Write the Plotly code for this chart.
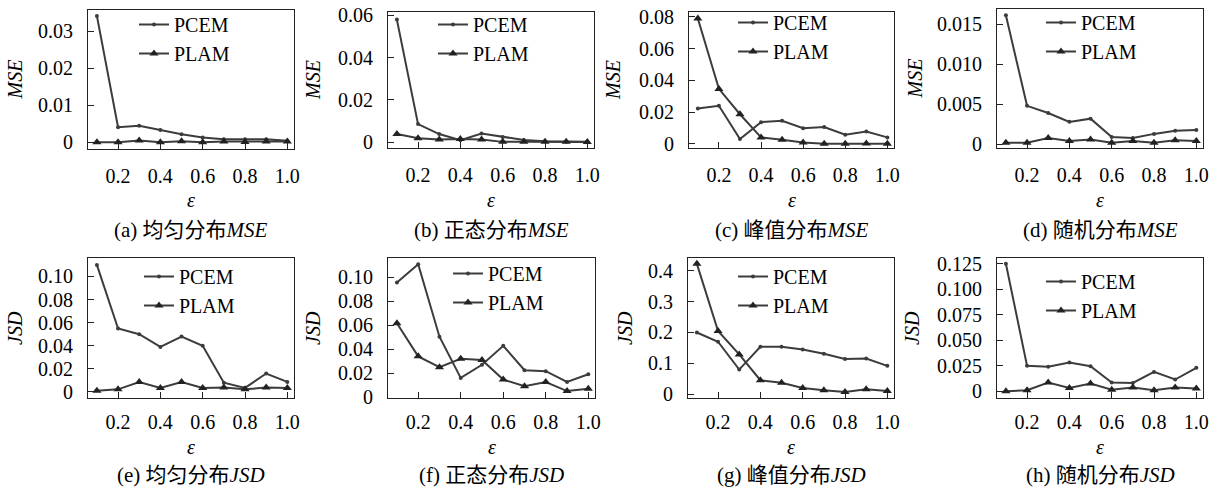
import plotly.graph_objects as go

W, H = 1224, 489

eps = [0.1, 0.2, 0.3, 0.4, 0.5, 0.6, 0.7, 0.8, 0.9, 1.0]
x_tickvals = [0.2, 0.4, 0.6, 0.8, 1.0]
x_ticktext = ["0.2", "0.4", "0.6", "0.8", "1.0"]

# (a) uniform MSE
a_pcem = [0.0341, 0.0041, 0.0045, 0.0033, 0.0022, 0.0013, 0.0008, 0.0008, 0.0008, 0.0004]
a_plam = [0.0000, 0.0000, 0.0005, 0.0000, 0.0003, 0.0000, 0.0002, 0.0001, 0.0002, 0.0002]
# (b) normal MSE
b_pcem = [0.0580, 0.0086, 0.0039, 0.0010, 0.0041, 0.0025, 0.0011, 0.0005, 0.0002, 0.0002]
b_plam = [0.0039, 0.0019, 0.0013, 0.0016, 0.0013, 0.0002, 0.0002, 0.0002, 0.0002, 0.0001]
# (c) peak MSE
c_pcem = [0.0222, 0.0239, 0.0029, 0.0136, 0.0145, 0.0098, 0.0105, 0.0057, 0.0077, 0.0040]
c_plam = [0.0790, 0.0346, 0.0186, 0.0040, 0.0025, 0.0008, 0.0000, 0.0000, 0.0002, 0.0000]
# (d) random MSE
d_pcem = [0.0161, 0.0048, 0.0039, 0.0028, 0.0032, 0.0009, 0.0008, 0.0013, 0.0017, 0.0018]
d_plam = [0.0002, 0.0002, 0.0008, 0.0004, 0.0006, 0.0002, 0.0004, 0.0002, 0.0005, 0.0004]
# (e) uniform JSD
e_pcem = [0.110, 0.055, 0.050, 0.039, 0.048, 0.040, 0.008, 0.0035, 0.016, 0.0087]
e_plam = [0.001, 0.0023, 0.0087, 0.0035, 0.0087, 0.0035, 0.0038, 0.0023, 0.0038, 0.0035]
# (f) normal JSD
f_pcem = [0.0958, 0.111, 0.0504, 0.016, 0.027, 0.0428, 0.0224, 0.0216, 0.0126, 0.019]
f_plam = [0.0616, 0.034, 0.025, 0.032, 0.031, 0.0146, 0.009, 0.0126, 0.005, 0.007]
# (g) peak JSD
g_pcem = [0.200, 0.170, 0.080, 0.154, 0.154, 0.145, 0.131, 0.114, 0.116, 0.092]
g_plam = [0.422, 0.205, 0.129, 0.0455, 0.037, 0.0206, 0.013, 0.0076, 0.016, 0.011]
# (h) random JSD
h_pcem = [0.125, 0.0249, 0.024, 0.0282, 0.0246, 0.0085, 0.0082, 0.019, 0.0115, 0.023]
h_plam = [0.000, 0.001, 0.0085, 0.0033, 0.0075, 0.0016, 0.0036, 0.001, 0.0036, 0.0026]

series_pcem = [a_pcem, b_pcem, c_pcem, d_pcem, e_pcem, f_pcem, g_pcem, h_pcem]
series_plam = [a_plam, b_plam, c_plam, d_plam, e_plam, f_plam, g_plam, h_plam]

y_tickvals = [
    [0, 0.01, 0.02, 0.03],
    [0, 0.02, 0.04, 0.06],
    [0, 0.02, 0.04, 0.06, 0.08],
    [0, 0.005, 0.010, 0.015],
    [0, 0.02, 0.04, 0.06, 0.08, 0.10],
    [0, 0.02, 0.04, 0.06, 0.08, 0.10],
    [0, 0.1, 0.2, 0.3, 0.4],
    [0, 0.025, 0.050, 0.075, 0.100, 0.125],
]
y_ticktext = [
    ["0", "0.01", "0.02", "0.03"],
    ["0", "0.02", "0.04", "0.06"],
    ["0", "0.02", "0.04", "0.06", "0.08"],
    ["0", "0.005", "0.010", "0.015"],
    ["0", "0.02", "0.04", "0.06", "0.08", "0.10"],
    ["0", "0.02", "0.04", "0.06", "0.08", "0.10"],
    ["0", "0.1", "0.2", "0.3", "0.4"],
    ["0", "0.025", "0.050", "0.075", "0.100", "0.125"],
]
y_ranges = [
    [-0.0018, 0.0357],
    [-0.0027, 0.0616],
    [-0.0027, 0.0831],
    [-0.00046, 0.01688],
    [-0.0052, 0.116],
    [-0.0008, 0.1162],
    [-0.012, 0.441],
    [-0.0066, 0.1306],
]
y_titles = ["MSE", "MSE", "MSE", "MSE", "JSD", "JSD", "JSD", "JSD"]
captions = ["(a) 均匀分布<i>MSE</i>", "(b) 正态分布<i>MSE</i>", "(c) 峰值分布<i>MSE</i>",
            "(d) 随机分布<i>MSE</i>", "(e) 均匀分布<i>JSD</i>", "(f) 正态分布<i>JSD</i>",
            "(g) 峰值分布<i>JSD</i>", "(h) 随机分布<i>JSD</i>"]

# layout geometry in pixels (left, right, top, bottom)
boxes = [
    (88, 294, 10, 149), (388, 594, 12, 148), (689, 894, 12, 148), (997, 1203, 9, 148),
    (88, 294, 258, 398), (388, 595, 258, 398), (688, 894, 258, 398), (997, 1203, 258, 398),
]
ytitle_x = [15, 313, 613, 914, 15, 313, 625, 912]
legend_pos = [(138, 25), (437, 25), (737, 23), (1045, 23), (143, 277), (452, 274), (737, 277), (1045, 282)]

LINE = "#3c3c3c"
FONT = "Times New Roman, Liberation Serif, DejaVu Serif, serif"
CJK = "Times New Roman, Liberation Serif, Noto Sans CJK SC, serif"

fig = go.Figure()
annotations = []
layout = {}
for i in range(8):
    n = "" if i == 0 else str(i + 1)
    xa, ya = "x" + n, "y" + n
    lg = "legend" + n
    fig.add_trace(go.Scatter(x=eps, y=series_pcem[i], mode="lines+markers", name="PCEM",
                             xaxis=xa, yaxis=ya, legend=lg,
                             line=dict(color=LINE, width=2),
                             marker=dict(symbol="circle", size=4, color=LINE)))
    fig.add_trace(go.Scatter(x=eps, y=series_plam[i], mode="lines+markers", name="PLAM",
                             xaxis=xa, yaxis=ya, legend=lg,
                             line=dict(color=LINE, width=2),
                             marker=dict(symbol="triangle-up", size=8, color="#222222")))
    l, r, t, b = boxes[i]
    layout["xaxis" + n] = dict(
        domain=[l / W, r / W], anchor=ya, range=[0.058, 1.0315], automargin=False,
        tickvals=x_tickvals, ticktext=x_ticktext, ticks="inside", ticklen=6,
        tickwidth=1, tickcolor="#222", showline=True, linecolor="#222", linewidth=1,
        mirror=True, showgrid=False, zeroline=False,
        ticklabelstandoff=9 if i < 4 else 6,
        tickfont=dict(family=FONT, size=20, color="black"),
    )
    layout["yaxis" + n] = dict(
        domain=[1 - b / H, 1 - t / H], anchor=xa, range=y_ranges[i], automargin=False,
        tickvals=y_tickvals[i], ticktext=y_ticktext[i], ticks="inside", ticklen=6,
        tickwidth=1, tickcolor="#222", showline=True, linecolor="#222", linewidth=1,
        mirror=True, showgrid=False, zeroline=False, ticklabelstandoff=10,
        tickfont=dict(family=FONT, size=20, color="black"),
    )
    lx, ly = legend_pos[i]
    layout[lg] = dict(
        x=(lx - 4) / W, y=1 - (ly - 20) / H, xanchor="left", yanchor="top",
        xref="paper", yref="paper", bgcolor="rgba(0,0,0,0)", borderwidth=0,
        font=dict(family=FONT, size=20, color="black"),
    )
    cx = (l + r) / 2
    row_off = 0 if i < 4 else 245
    annotations.append(dict(x=cx / W, y=1 - (200 + row_off + (2 if i >= 4 else 0)) / H,
                            xref="paper", yref="paper", text="<i>ε</i>", showarrow=False,
                            xanchor="center", yanchor="middle",
                            font=dict(family=FONT, size=20, color="black")))
    annotations.append(dict(x=cx / W, y=1 - (230 + row_off) / H, xref="paper", yref="paper",
                            text=captions[i], showarrow=False, xanchor="center", yanchor="middle",
                            font=dict(family=CJK, size=21, color="black")))
    annotations.append(dict(x=ytitle_x[i] / W, y=1 - ((t + b) / 2) / H, xref="paper",
                            yref="paper", text="<i>" + y_titles[i] + "</i>", textangle=-90,
                            xanchor="center", yanchor="middle",
                            showarrow=False, font=dict(family=FONT, size=20, color="black")))

fig.update_layout(
    template="none",
    width=W, height=H, margin=dict(l=0, r=0, t=0, b=0, autoexpand=False),
    paper_bgcolor="white", plot_bgcolor="white",
    annotations=annotations, **layout,
)
fig.write_html("out.html", config={"displayModeBar": False},
               post_script="document.body.style.margin='0';document.body.style.overflow='hidden';")
